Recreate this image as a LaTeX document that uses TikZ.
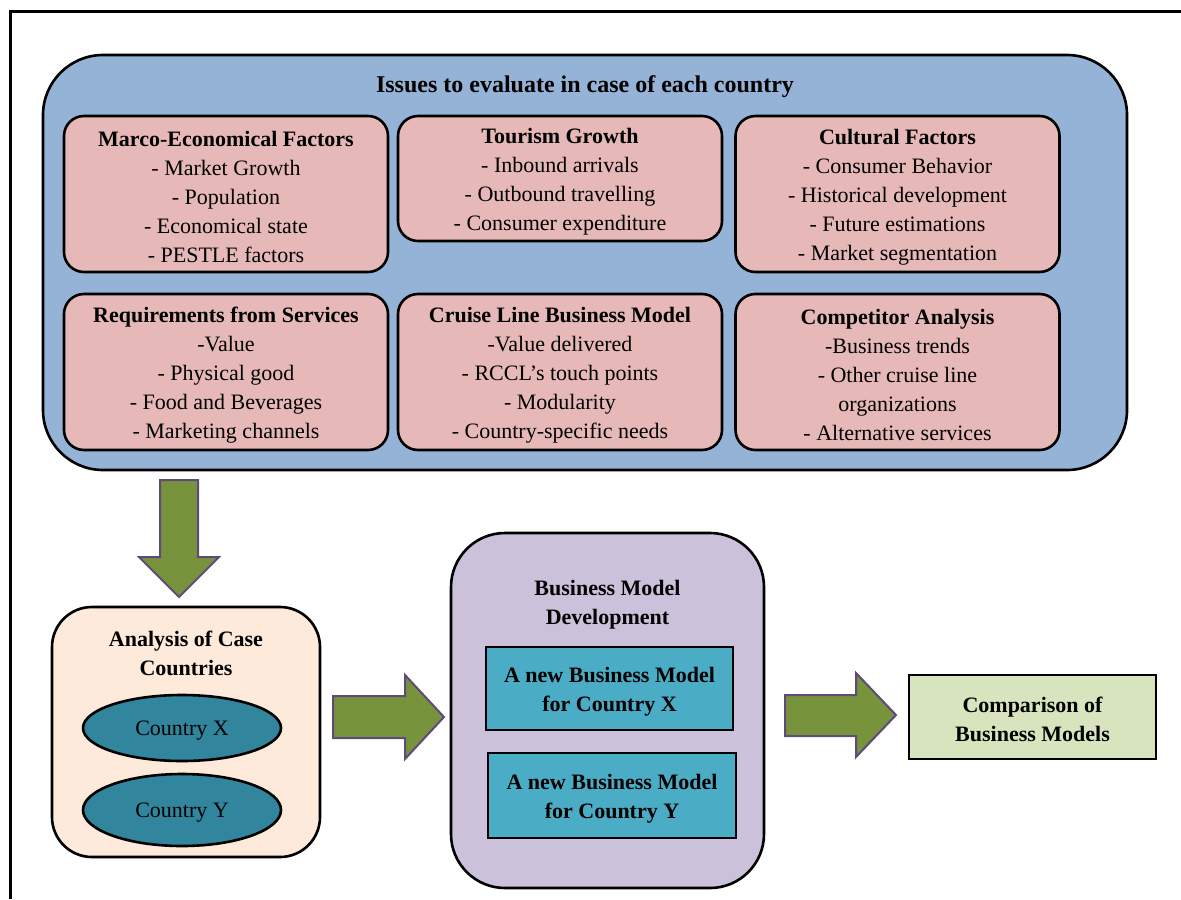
\documentclass[tikz,border=0pt]{standalone}
\usepackage{fontspec}
\setmainfont{Liberation Serif}
\usetikzlibrary{shapes.geometric}
\definecolor{bluebg}{HTML}{95B3D7}
\definecolor{pinkbox}{HTML}{E6B9B8}
\definecolor{peach}{HTML}{FDEADA}
\definecolor{lilac}{HTML}{CCC1DA}
\definecolor{tealbox}{HTML}{4BACC6}
\definecolor{ellfill}{HTML}{31859C}
\definecolor{arrowgreen}{HTML}{77933C}
\definecolor{arrowline}{HTML}{604A7B}
\definecolor{compgreen}{HTML}{D7E4BD}
\tikzset{
  txt/.style={font=\fontsize{11}{14.5}\selectfont, align=center, inner sep=0pt},
  btxt/.style={txt, font=\fontsize{11}{14.5}\selectfont\bfseries},
  bigbox/.style={draw=black, line width=1.3pt, inner sep=0pt},
  pinkstyle/.style={bigbox, fill=pinkbox, rounded corners=10pt, minimum width=162pt},
  tealstyle/.style={bigbox, fill=tealbox, minimum width=123.5pt},
  ellstyle/.style={ellipse, draw=black, line width=1.3pt, fill=ellfill, minimum width=99pt, minimum height=33pt, inner sep=0pt},
  blockarrow/.style={fill=arrowgreen, draw=arrowline, line width=1pt, line join=miter},
}
\begin{document}
\begin{tikzpicture}[x=0.5pt,y=-0.5pt]
\useasboundingbox (0,0) rectangle (1181,899);
\fill[white] (0,0) rectangle (1181,899);
\draw[line width=1.5pt] (10,899) -- (10,12) -- (1181,12);

% big blue box
\node[bigbox, fill=bluebg, rounded corners=30pt, minimum width=542pt, minimum height=207.5pt] (issues) at (585,262.5) {};
\node[txt, font=\fontsize{12}{14.5}\selectfont\bfseries] (title) at (585,87) {Issues to evaluate in case of each country};

\node[pinkstyle, minimum height=78pt] (macro) at (226,194) {};
\node[txt] (macroT) at ([yshift=-1.4pt]macro.center) {\textbf{Marco-Economical Factors}\\- Market Growth\\- Population\\- Economical state\\- PESTLE factors};
\node[pinkstyle, minimum height=62.5pt] (tourism) at (560,178.5) {};
\node[txt] (tourismT) at ([yshift=-1.4pt]tourism.center) {\textbf{Tourism Growth}\\- Inbound arrivals\\- Outbound travelling\\- Consumer expenditure};
\node[pinkstyle, minimum height=78pt] (cultural) at (897.5,194) {};
\node[txt] (culturalT) at ([yshift=-1.4pt]cultural.center) {\textbf{Cultural Factors}\\- Consumer Behavior\\- Historical development\\- Future estimations\\- Market segmentation};
\node[pinkstyle, minimum height=78pt] (req) at (226,372) {};
\node[txt] (reqT) at ([yshift=-1.4pt]req.center) {\textbf{Requirements from Services}\\-Value\\- Physical good\\- Food and Beverages\\- Marketing channels};
\node[pinkstyle, minimum height=78pt] (cruise) at (560,372) {};
\node[txt] (cruiseT) at ([yshift=-1.4pt]cruise.center) {\textbf{Cruise Line Business Model}\\-Value delivered\\- RCCL’s touch points\\- Modularity\\- Country-specific needs};
\node[pinkstyle, minimum height=78pt] (comp) at (897.5,372) {};
\node[txt] (compT) at ([yshift=-1.4pt]comp.center) {\textbf{Competitor Analysis}\\-Business trends\\- Other cruise line\\organizations\\- Alternative services};

% analysis box
\node[bigbox, fill=peach, rounded corners=20pt, minimum width=134pt, minimum height=125pt] (analysis) at (186,732) {};
\node[btxt] (antitle) at (186,653) {Analysis of Case\\Countries};
\node[ellstyle] (cx) at (182,728) {};
\node[txt] (cxT) at ([yshift=-1.3pt]cx.center) {Country X};
\node[ellstyle, minimum height=36pt] (cy) at (182,810) {};
\node[txt] (cyT) at ([yshift=-1.3pt]cy.center) {Country Y};

% business model development
\node[bigbox, fill=lilac, rounded corners=27pt, minimum width=156.5pt, minimum height=177.5pt] (bmd) at (607.5,710.5) {};
\node[btxt] (bmdtitle) at (607.5,605) {Business Model\\Development};
\node[tealstyle, minimum height=41.5pt] (bmx) at (609.5,688.5) {};
\node[btxt] (bmxT) at ([yshift=-1.6pt]bmx.center) {A new Business Model\\for Country X};
\node[tealstyle, minimum height=42.5pt, minimum width=124pt] (bmy) at (612,795.5) {};
\node[btxt] (bmyT) at ([yshift=-1.6pt]bmy.center) {A new Business Model\\for Country Y};

% comparison
\node[bigbox, fill=compgreen, minimum width=123.5pt, minimum height=42pt] (cmp) at (1032.5,717) {};
\node[btxt] (cmpT) at ([yshift=-1.1pt]cmp.center) {Comparison of\\Business Models};

% block arrows
\draw[blockarrow] (160,480) -- (198,480) -- (198,557) -- (219,557) -- (179,597) -- (139,557) -- (160,557) -- cycle;
\draw[blockarrow] (333,696) -- (405,696) -- (405,675) -- (444,717) -- (405,759) -- (405,738) -- (333,738) -- cycle;
\draw[blockarrow] (785,695) -- (856,695) -- (856,673) -- (896,715) -- (856,757) -- (856,736) -- (785,736) -- cycle;
\end{tikzpicture}
\end{document}
